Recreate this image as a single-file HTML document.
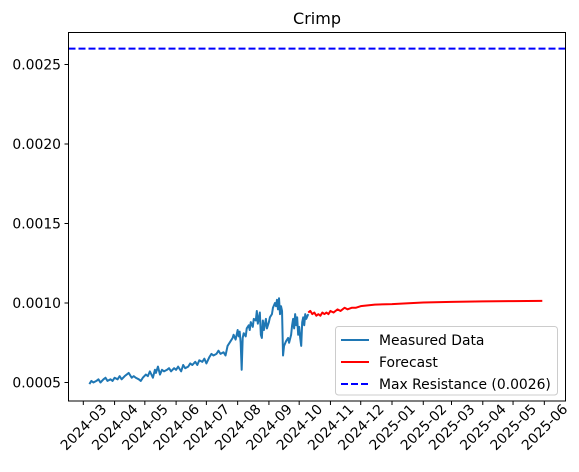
<!DOCTYPE html>
<html><head><meta charset="utf-8"><style>
html,body{margin:0;padding:0;background:#fff;}
svg{display:block;font-family:"DejaVu Sans","Liberation Sans",sans-serif;}
</style></head><body>
<svg id="chart" width="579" height="472" viewBox="0 0 579 472" xmlns="http://www.w3.org/2000/svg">
<text x="317" y="24" font-size="16" text-anchor="middle">Crimp</text>
<g id="series"></g>
<rect x="68.5" y="32.5" width="497" height="368.5" fill="none" stroke="#000" stroke-width="1"/>
<g id="axes"></g>
<g>
<rect x="335.5" y="326.5" width="222" height="68.5" rx="3" fill="#fff" fill-opacity="0.8" stroke="#ccc"/>
<line x1="341" y1="340" x2="369" y2="340" stroke="#1f77b4" stroke-width="2"/>
<text x="379" y="345" font-size="13.9">Measured Data</text>
<line x1="341" y1="362" x2="369" y2="362" stroke="#ff0000" stroke-width="2"/>
<text x="379" y="367" font-size="13.9">Forecast</text>
<line x1="341" y1="384" x2="369" y2="384" stroke="#0000ff" stroke-width="2" stroke-dasharray="7,3"/>
<text x="379" y="389" font-size="13.9">Max Resistance (0.0026)</text>
</g>
</svg>
<script>
const measuredDates=["2024-03-07","2024-03-09","2024-03-11","2024-03-14","2024-03-16","2024-03-18","2024-03-21","2024-03-23","2024-03-25","2024-03-28","2024-03-30","2024-04-01","2024-04-04","2024-04-06","2024-04-08","2024-04-11","2024-04-13","2024-04-15","2024-04-18","2024-04-20","2024-04-22","2024-04-25","2024-04-27","2024-04-29","2024-05-02","2024-05-04","2024-05-06","2024-05-09","2024-05-11","2024-05-12","2024-05-14","2024-05-16","2024-05-18","2024-05-20","2024-05-23","2024-05-25","2024-05-27","2024-05-30","2024-06-01","2024-06-03","2024-06-06","2024-06-08","2024-06-10","2024-06-13","2024-06-15","2024-06-17","2024-06-20","2024-06-22","2024-06-24","2024-06-27","2024-06-29","2024-07-01","2024-07-04","2024-07-06","2024-07-08","2024-07-11","2024-07-13","2024-07-15","2024-07-18","2024-07-20","2024-07-22","2024-07-25","2024-07-27","2024-07-28","2024-07-30","2024-08-01","2024-08-02","2024-08-03","2024-08-04","2024-08-05","2024-08-06","2024-08-07","2024-08-09","2024-08-10","2024-08-12","2024-08-13","2024-08-14","2024-08-16","2024-08-17","2024-08-19","2024-08-20","2024-08-21","2024-08-23","2024-08-24","2024-08-25","2024-08-26","2024-08-27","2024-08-29","2024-08-30","2024-09-01","2024-09-02","2024-09-04","2024-09-05","2024-09-07","2024-09-08","2024-09-09","2024-09-10","2024-09-11","2024-09-12","2024-09-13","2024-09-14","2024-09-15","2024-09-16","2024-09-18","2024-09-20","2024-09-21","2024-09-23","2024-09-24","2024-09-25","2024-09-26","2024-09-27","2024-09-28","2024-09-29","2024-09-30","2024-10-01","2024-10-02","2024-10-03","2024-10-04","2024-10-05","2024-10-06","2024-10-07","2024-10-08","2024-10-10"];
const measuredValues=[0.00049,0.00051,0.00050,0.00051,0.00052,0.00050,0.00052,0.00053,0.00051,0.00052,0.00051,0.00053,0.00052,0.00054,0.00052,0.00054,0.00055,0.00056,0.00053,0.00054,0.00053,0.00052,0.00051,0.00053,0.00055,0.00054,0.00057,0.00053,0.00058,0.00056,0.00060,0.00055,0.00058,0.00057,0.00058,0.00059,0.00057,0.00059,0.00058,0.00060,0.00057,0.00061,0.00059,0.00060,0.00062,0.00061,0.00063,0.00061,0.00064,0.00063,0.00065,0.00062,0.00066,0.00068,0.00067,0.00068,0.00070,0.00068,0.00069,0.00067,0.00073,0.00076,0.00078,0.00080,0.00077,0.00083,0.00079,0.00082,0.00075,0.00058,0.00078,0.00081,0.00079,0.00084,0.00086,0.00083,0.00088,0.00085,0.00090,0.00089,0.00095,0.00087,0.00094,0.00080,0.00078,0.00089,0.00083,0.00090,0.00084,0.00088,0.00091,0.00093,0.00097,0.00100,0.00098,0.00102,0.00096,0.00103,0.00093,0.00098,0.00095,0.00067,0.00073,0.00076,0.00078,0.00075,0.00080,0.00086,0.00090,0.00084,0.00093,0.00086,0.00091,0.00080,0.00085,0.00078,0.00073,0.00088,0.00091,0.00086,0.00093,0.00090,0.00093];
const forecastDates=["2024-10-10","2024-10-12","2024-10-14","2024-10-16","2024-10-18","2024-10-20","2024-10-22","2024-10-24","2024-10-26","2024-10-28","2024-10-30","2024-11-01","2024-11-04","2024-11-08","2024-11-11","2024-11-15","2024-11-18","2024-11-22","2024-11-26","2024-12-01","2024-12-08","2024-12-15","2025-01-01","2025-01-15","2025-02-01","2025-03-01","2025-04-01","2025-05-01","2025-05-30"];
const forecastValues=[0.00094,0.00095,0.00093,0.00094,0.00092,0.00093,0.00092,0.00094,0.00093,0.00094,0.00093,0.00095,0.00094,0.00096,0.00095,0.00097,0.00096,0.00097,0.00097,0.00098,0.000985,0.00099,0.000993,0.000998,0.001003,0.001007,0.00101,0.001012,0.001013];
const maxResistance=0.0026;
const yTicks=[0.0005,0.0010,0.0015,0.0020,0.0025];
const yTickLabels=["0.0005","0.0010","0.0015","0.0020","0.0025"];
const xTickLabels=["2024-03","2024-04","2024-05","2024-06","2024-07","2024-08","2024-09","2024-10","2024-11","2024-12","2025-01","2025-02","2025-03","2025-04","2025-05","2025-06"];

const NS="http://www.w3.org/2000/svg";
const t0=Date.UTC(2024,2,1);
function xs(d){const p=d.split("-").map(Number);const t=Date.UTC(p[0],p[1]-1,p[2]||1);return 83.3+(t-t0)/86400000*1.0088;}
function ys(v){return 303-(v-0.001)/0.0005*79.5;}
const axes=document.getElementById("axes"),series=document.getElementById("series");
function mk(tag,attrs,parent){const e=document.createElementNS(NS,tag);for(const k in attrs)e.setAttribute(k,attrs[k]);parent.appendChild(e);return e;}
yTicks.forEach((v,i)=>{
  const y=ys(v);
  const tk=mk("line",{x1:64.5,x2:68.5,y1:y,y2:y,stroke:"#000"},axes);
  
  
  const t=mk("text",{x:61,y:y+5,"font-size":13.9,"text-anchor":"end"},axes);
  t.textContent=yTickLabels[i];
  
  
});
xTickLabels.forEach(l=>{
  const x=xs(l);
  const tk=mk("line",{x1:x,x2:x,y1:401,y2:405,stroke:"#000"},axes);
  
  
  const t=mk("text",{x:x,y:432,"font-size":13.9,"text-anchor":"middle",transform:`rotate(-45 ${x} 427)`},axes);
  t.textContent=l;
  
  
});
const my=ys(maxResistance);
const ml=mk("line",{x1:68.5,x2:565.5,y1:my,y2:my,stroke:"#0000ff","stroke-width":2,"stroke-dasharray":"7,3"},series);


const mp=mk("polyline",{points:measuredDates.map((d,i)=>xs(d)+","+ys(measuredValues[i])).join(" "),fill:"none",stroke:"#1f77b4","stroke-width":2,"stroke-linejoin":"round"},series);


const fp=mk("polyline",{points:forecastDates.map((d,i)=>xs(d)+","+ys(forecastValues[i])).join(" "),fill:"none",stroke:"#ff0000","stroke-width":2,"stroke-linejoin":"round"},series);


</script>
</body></html>
